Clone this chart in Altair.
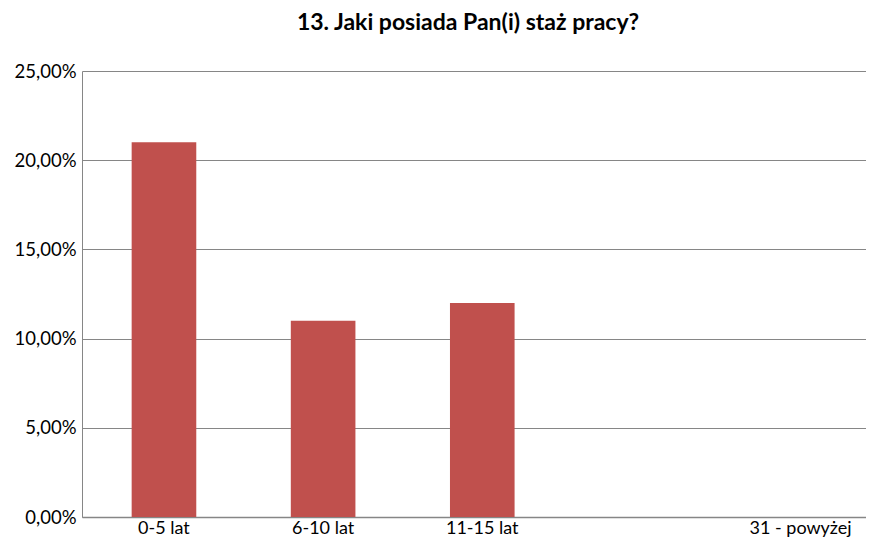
import altair as alt
import pandas as pd

categories = ["0-5 lat", "6-10 lat", "11-15 lat", " ", "31 - powyżej"]
values = [0.21, 0.11, 0.12, 0.0, 0.0]
y_ticks = [0, 0.05, 0.10, 0.15, 0.20, 0.25]

df = pd.DataFrame({"kat": categories, "val": values})

chart = alt.Chart(df).mark_bar(color="#C0504D").encode(
    x=alt.X("kat:N", sort=categories, title=None,
            scale=alt.Scale(paddingInner=0.594, paddingOuter=0.26, align=0.6),
            axis=alt.Axis(labelAngle=0, ticks=False, labelPadding=2, labelFontSize=18,
                          labelFont="Lato", labelColor="#000000",
                          domainColor="#868686", domainWidth=1.5, grid=False)),
    y=alt.Y("val:Q", title=None,
            scale=alt.Scale(domain=[0, 0.25], nice=False),
            axis=alt.Axis(values=y_ticks, ticks=False, labelPadding=6, labelFontSize=18.5,
                          labelFont="Lato", labelColor="#000000",
                          labelExpr="replace(format(datum.value, '.2%'), '.', ',')",
                          domainColor="#868686", gridColor="#868686", gridWidth=1)),
).properties(
    width=784,
    height=446,
    title=alt.TitleParams("13. Jaki posiada Pan(i) staż pracy?", font="Lato", fontSize=23,
                          fontWeight="bold", color="#000000", anchor="middle", offset=27, dx=-6),
    autosize=alt.AutoSizeParams(type="none"),
    padding={"left": 74, "top": 63, "right": 0, "bottom": 21},
).configure_view(stroke=None)

chart.save("out.html", embed_options={"renderer": "svg", "actions": False})
